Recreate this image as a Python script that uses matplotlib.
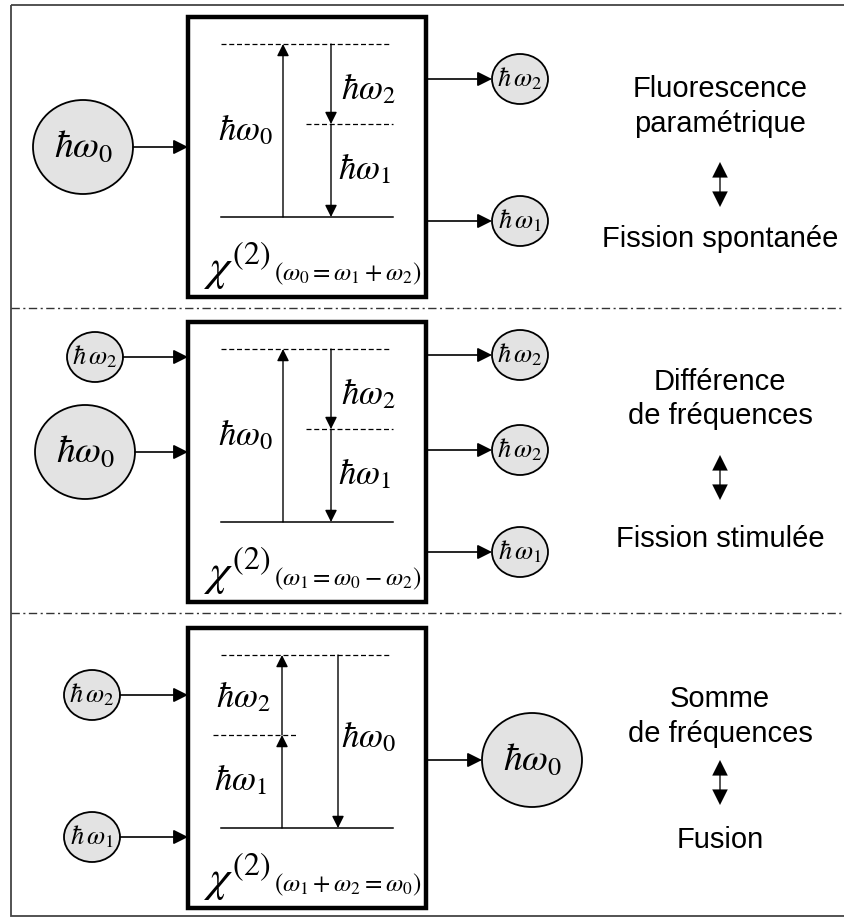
import matplotlib.pyplot as plt
from matplotlib.patches import Ellipse, Rectangle

plt.rcParams["mathtext.fontset"] = "stix"
plt.rcParams["font.family"] = ["Liberation Sans", "DejaVu Sans"]

# --- contenu du schéma (trois processus du second ordre) ---
panel_tops = [17, 322, 628]          # haut de chaque boîte chi(2)
right_titles = [
    ["Fluorescence", "paramétrique"],
    ["Différence", "de fréquences"],
    ["Somme", "de fréquences"],
]
right_bottoms = ["Fission spontanée", "Fission stimulée", "Fusion"]
chi_relations = [
    r"$(\omega_0=\omega_1+\omega_2)$",
    r"$(\omega_1=\omega_0-\omega_2)$",
    r"$(\omega_1+\omega_2=\omega_0)$",
]
# photons entrants / sortants (label, x, y, grand?)
inputs = [
    [(r"$\hbar\omega_0$", 83, 147, True)],
    [(r"$\hbar\,\omega_2$", 95, 357, False), (r"$\hbar\omega_0$", 85, 452, True)],
    [(r"$\hbar\,\omega_2$", 92, 695, False), (r"$\hbar\,\omega_1$", 92, 837, False)],
]
outputs = [
    [(r"$\hbar\,\omega_2$", 520, 79, False), (r"$\hbar\,\omega_1$", 520, 221, False)],
    [(r"$\hbar\,\omega_2$", 520, 355, False), (r"$\hbar\,\omega_2$", 520, 450, False),
     (r"$\hbar\,\omega_1$", 520, 552, False)],
    [(r"$\hbar\omega_0$", 532, 760, True)],
]
# lignes de base des textes de droite et position des doubles flèches
title_base = [(97, 132), (390, 424), (707, 742)]
arrow_y = [(162, 207), (455, 500), (760, 805)]
bottom_base = [247, 547, 848]

BOX_L, BOX_R, BOX_H = 188, 426, 280

fig = plt.figure(figsize=(8.45, 9.18), dpi=100)
ax = fig.add_axes([0, 0, 1, 1])
ax.set_xlim(0, 845)
ax.set_ylim(918, 0)
ax.axis("off")


def arrow(x0, y0, x1, y1, style="-|>", scale=18, lw=1.2, color="black"):
    ax.annotate("", xy=(x1, y1), xytext=(x0, y0),
                arrowprops=dict(arrowstyle=style, color=color, lw=lw,
                                shrinkA=0, shrinkB=0, mutation_scale=scale))


def photon(label, x, y, big):
    rx, ry = (50, 47) if big else (28, 25)
    ax.add_patch(Ellipse((x, y), 2 * rx, 2 * ry, facecolor="#e3e3e3",
                         edgecolor="black", lw=1.3))
    ax.text(x, y, label, ha="center", va="center",
            fontsize=27 if big else 19)
    return rx


# cadre extérieur et séparateurs
ax.add_patch(Rectangle((11, 5), 840, 911, fill=False, edgecolor="#444444", lw=1.3))
for ysep in [308, 613]:
    ax.plot([11, 845], [ysep, ysep], color="#333333", lw=1.0,
            linestyle=(0, (6, 2.5, 1.5, 2.5)))

for i, top in enumerate(panel_tops):
    ax.add_patch(Rectangle((BOX_L, top), BOX_R - BOX_L, BOX_H, fill=False,
                           edgecolor="black", lw=3.2))
    y_hi = top + 27
    y_mid = top + 107
    y_lo = top + 200
    dash = (0, (4, 2.2))
    ax.plot([221, 390], [y_hi, y_hi], color="black", lw=0.9, linestyle=dash)
    ax.plot([221, 393], [y_lo, y_lo], color="black", lw=1.1)
    if i < 2:
        ax.plot([306, 393], [y_mid, y_mid], color="black", lw=0.9, linestyle=dash)
        arrow(283, y_lo, 283, y_hi, scale=18, lw=1.0)
        arrow(331, y_hi, 331, y_mid, scale=18, lw=1.0)
        arrow(331, y_mid, 331, y_lo, scale=18, lw=1.0)
        ax.text(245, top + 113, r"$\hbar\omega_0$", ha="center", va="center", fontsize=25)
        ax.text(368, top + 72, r"$\hbar\omega_2$", ha="center", va="center", fontsize=25)
        ax.text(364, top + 152, r"$\hbar\omega_1$", ha="center", va="center", fontsize=25)
    else:
        ax.plot([213, 296], [y_mid, y_mid], color="black", lw=0.9, linestyle=dash)
        arrow(282, y_lo, 282, y_mid, scale=18, lw=1.0)
        arrow(282, y_mid, 282, y_hi, scale=18, lw=1.0)
        arrow(338, y_hi, 338, y_lo, scale=18, lw=1.0)
        ax.text(243, top + 69, r"$\hbar\omega_2$", ha="center", va="center", fontsize=25)
        ax.text(240, top + 152, r"$\hbar\omega_1$", ha="center", va="center", fontsize=25)
        ax.text(368, top + 109, r"$\hbar\omega_0$", ha="center", va="center", fontsize=25)
    # susceptibilité
    ax.text(204, top + 264, r"$\chi^{(2)}$", ha="left", va="baseline", fontsize=33)
    ax.text(274, top + 263, chi_relations[i], ha="left", va="baseline", fontsize=18)

    for lab, x, y, big in inputs[i]:
        rx = photon(lab, x, y, big)
        arrow(x + rx, y, BOX_L, y, scale=22)
    for lab, x, y, big in outputs[i]:
        rx = photon(lab, x, y, big)
        arrow(BOX_R, y, x - rx, y, scale=22)

# textes de droite
for i in range(3):
    for t, yy in zip(right_titles[i], title_base[i]):
        ax.text(720, yy, t, ha="center", va="baseline", fontsize=21)
    y0, y1 = arrow_y[i]
    ym = (y0 + y1) / 2
    ax.plot([720, 720], [y0 + 12, y1 - 12], color="#555555", lw=1.4)
    arrow(720, ym, 720, y0, scale=28, lw=0.01)
    arrow(720, ym, 720, y1, scale=28, lw=0.01)
    ax.text(720, bottom_base[i], right_bottoms[i], ha="center", va="baseline", fontsize=21)

fig.savefig("out.png", dpi=100)
